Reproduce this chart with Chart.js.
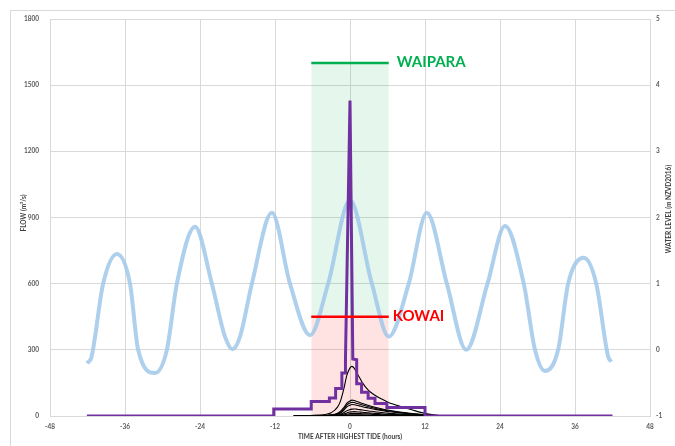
<!DOCTYPE html>
<html>
<head>
<meta charset="utf-8">
<script src="https://cdn.jsdelivr.net/npm/chart.js@4.4.1/dist/chart.umd.min.js"></script>
<style>
  html, body { margin: 0; padding: 0; background: #fff; }
  #wrap { width: 675px; height: 446px; position: relative; }
</style>
</head>
<body>
<div id="wrap"><canvas id="tideChart"></canvas></div>
<script>
"use strict";

// water level (right axis, m NZVD2016)
var TIDE_HOURS = [-42.1, -41.4, -39.5, -37.3, -35.2, -33.9, -31.2, -29.3, -27.7, -24.8, -22.1, -20.0, -18.8, -17.6, -15.7, -12.5, -9.6, -6.4, -3.5, 0, 3.5, 6.2, 9.4, 12.3, 15.5, 18.6, 22.0, 24.8, 27.8, 29.6, 31.2, 33.3, 34.9, 37.4, 39.4, 41.3, 41.8];
var TIDE_LEVEL = [-0.2, -0.12, 1.0, 1.45, 1.0, 0.0, -0.35, 0.0, 1.0, 1.86, 1.0, 0.2, 0.01, 0.2, 1.0, 2.07, 1.0, 0.22, 1.0, 2.26, 1.0, 0.2, 1.0, 2.07, 1.0, 0.0, 1.0, 1.87, 1.0, 0.0, -0.32, 0.0, 1.0, 1.39, 1.0, -0.1, -0.18];

// stepped design flow (purple)
var FLOW_HOURS = [-42.1, -12.2, -12.2, -6.2, -6.2, -3.3, -3.3, -2.3, -2.3, -1.3, -1.3, -0.8, -0.8, -0.65, 0, 0.45, 1.07, 1.07, 1.85, 1.85, 2.9, 2.9, 4.0, 4.0, 5.9, 5.9, 12.0, 12.0, 42.0];
var FLOW_VALUES = [0, 0, 32, 32, 66, 66, 82, 82, 125, 125, 195, 195, 258, 258, 1430, 258, 255, 146, 146, 108, 108, 80, 80, 57, 57, 38, 38, 0, 0];

// black hydrographs, all on the same hours
var HYDRO_HOURS = [-9, -7, -5, -4, -3, -2, -1.5, -1, -0.5, 0, 0.3, 0.7, 1, 1.5, 2, 3, 4, 5, 6, 7, 8, 10, 12, 14, 15];
var HYDRO_A = [0, 1, 4, 7, 15, 40, 70, 122, 185, 218, 225, 216, 200, 176, 150, 115, 94, 78, 64, 53, 44, 27, 12, 3, 0];
var HYDRO_B = [0, 0, 1, 2, 5, 13, 22, 38, 58, 68, 72, 70, 67, 62, 57, 48, 40, 33, 27, 22, 18, 11, 5, 1, 0];
var HYDRO_C = [0, 0, 1, 2, 4, 10, 18, 32, 50, 59, 62, 61, 58, 54, 50, 42, 35, 29, 24, 20, 16, 10, 5, 1, 0];
var HYDRO_D = [0, 0, 1, 1, 3, 8, 14, 26, 42, 49, 52, 51, 49, 46, 42, 36, 30, 25, 21, 17, 14, 9, 4, 1, 0];
var HYDRO_E = [0, 0, 0, 1, 2, 5, 9, 15, 24, 29, 31, 32, 31, 29, 27, 23, 19, 16, 13, 11, 9, 6, 3, 1, 0];
var HYDRO_F = [0, 0, 0, 0, 1, 3, 5, 9, 14, 18, 19, 20, 19, 18, 17, 14, 12, 10, 8, 7, 6, 4, 2, 1, 0];
var HYDRO_G = [0, 0, 0, 0, 1, 2, 3, 5, 8, 11, 12, 12, 12, 11, 10, 9, 7, 6, 5, 4, 4, 2, 1, 0, 0];
var HYDRO_H = [0, 0, 0, 0, 0, 1, 1, 3, 4, 5, 6, 6, 6, 5, 5, 4, 4, 3, 3, 2, 2, 1, 1, 0, 0];
var HYDRO_I = [0, 0, 0, 0, 0, 0, 1, 1, 2, 3, 3, 3, 3, 3, 2, 2, 2, 2, 1, 1, 1, 1, 0, 0, 0];

// flood thresholds and the window they apply to
var THRESHOLD_NAMES = ['WAIPARA', 'KOWAI'];
var THRESHOLD_FLOWS = [1600, 450];
var WINDOW_HOURS = [-6.2, 6.2];

var X_TICKS = [-48, 48, 12];
var FLOW_TICKS = [0, 1800, 300];
var LEVEL_TICKS = [-1, 5, 1];

var COLORS = {
  'tide': 'rgba(160, 200, 233, 0.85)',
  'flow': '#7030a0',
  'hydro': '#000000',
  'waipara': '#00b050',
  'waiparaFill': 'rgba(0, 176, 80, 0.1)',
  'kowai': '#ff0000',
  'kowaiFill': 'rgba(255, 0, 0, 0.11)',
  'grid': '#d9d9d9',
  'tick': '#595959',
  'title': '#404040'
};
var FONT = 'Lato, "Open Sans", sans-serif';

var toPoints = function (xs, ys) {
  var pts = [];
  for (let i = 0; i < xs.length; i++) {
    pts.push({ x: xs[i], y: ys[i] });
  }
  return pts;
};

var plainTick = function (value) {
  return String(value);
};

var hydroSet = function (values) {
  return {
    data: toPoints(HYDRO_HOURS, values),
    borderColor: COLORS.hydro,
    borderWidth: 1.1,
    pointRadius: 0,
    cubicInterpolationMode: 'monotone',
    yAxisID: 'y',
    order: 4
  };
};

var decorPlugin = {
  id: 'decor',
  beforeDraw: function (chart) {
    var ctx = chart.ctx;
    ctx.save();
    ctx.strokeStyle = COLORS.grid;
    ctx.lineWidth = 1;
    ctx.strokeRect(10.5, 10.5, 720, 500);
    ctx.restore();
  },
  afterDatasetsDraw: function (chart) {
    var ctx = chart.ctx;
    var xs = chart.scales.x, ys = chart.scales.y;
    var labelColors = [COLORS.waipara, COLORS.kowai];
    var labelGap = [8, 4];
    ctx.save();
    ctx.font = 'bold 15px ' + FONT;
    ctx.textBaseline = 'middle';
    ctx.textAlign = 'left';
    for (let i = 0; i < THRESHOLD_NAMES.length; i++) {
      ctx.fillStyle = labelColors[i];
      ctx.fillText(THRESHOLD_NAMES[i], xs.getPixelForValue(WINDOW_HOURS[1]) + labelGap[i], ys.getPixelForValue(THRESHOLD_FLOWS[i]) - 1);
    }

    // axis titles
    ctx.fillStyle = COLORS.title;
    ctx.font = 'bold 6.5px ' + FONT;
    ctx.textAlign = 'center';
    ctx.fillText('TIME AFTER HIGHEST TIDE (hours)', (chart.chartArea.left + chart.chartArea.right) / 2, 437);
    ctx.translate(24, 213);
    ctx.rotate(-Math.PI / 2);
    ctx.fillText('FLOW (m\u00b3/s)', 0, 0);
    ctx.restore();

    ctx.save();
    ctx.fillStyle = COLORS.title;
    ctx.font = 'bold 6.5px ' + FONT;
    ctx.textAlign = 'center';
    ctx.textBaseline = 'middle';
    ctx.translate(669, 209);
    ctx.rotate(-Math.PI / 2);
    ctx.fillText('WATER LEVEL (m NZVD2016)', 0, 0);
    ctx.restore();
  }
};

var load_tide_chart = function () {
  var el = document.getElementById('tideChart').getContext('2d');
  var tickFont = { family: FONT, size: 6.5, weight: 'bold' };

  var datasets = [
    {
      label: THRESHOLD_NAMES[0],
      data: toPoints(WINDOW_HOURS, [THRESHOLD_FLOWS[0], THRESHOLD_FLOWS[0]]),
      borderColor: COLORS.waipara,
      backgroundColor: COLORS.waiparaFill,
      borderWidth: 2.5,
      pointRadius: 0,
      fill: 1,
      yAxisID: 'y',
      order: 0
    },
    {
      label: THRESHOLD_NAMES[1],
      data: toPoints(WINDOW_HOURS, [THRESHOLD_FLOWS[1], THRESHOLD_FLOWS[1]]),
      borderColor: COLORS.kowai,
      backgroundColor: COLORS.kowaiFill,
      borderWidth: 2.5,
      pointRadius: 0,
      fill: 'origin',
      yAxisID: 'y',
      order: 0
    },
    {
      label: 'Flow',
      data: toPoints(FLOW_HOURS, FLOW_VALUES),
      borderColor: COLORS.flow,
      borderWidth: 3,
      pointRadius: 0,
      tension: 0,
      yAxisID: 'y',
      order: 1
    },
    {
      label: 'Water level',
      data: toPoints(TIDE_HOURS, TIDE_LEVEL),
      borderColor: COLORS.tide,
      borderWidth: 4,
      pointRadius: 0,
      cubicInterpolationMode: 'monotone',
      yAxisID: 'y2',
      order: 2
    }
  ];
  [HYDRO_A, HYDRO_B, HYDRO_C, HYDRO_D, HYDRO_E, HYDRO_F, HYDRO_G, HYDRO_H, HYDRO_I].forEach(function (v) {
    datasets.push(hydroSet(v));
  });

  return new Chart(el, {
    type: 'line',
    data: { datasets: datasets },
    plugins: [decorPlugin],
    options: {
      responsive: true,
      maintainAspectRatio: false,
      animation: false,
      layout: { padding: { top: 19, left: 0, right: 0, bottom: 0 } },
      plugins: {
        legend: { display: false },
        tooltip: { enabled: false },
        filler: { drawTime: 'beforeDatasetsDraw' }
      },
      scales: {
        x: {
          type: 'linear',
          min: X_TICKS[0],
          max: X_TICKS[1],
          afterFit: function (s) { s.height = 30; },
          grid: { color: COLORS.grid, drawTicks: false },
          border: { color: COLORS.grid },
          ticks: { stepSize: X_TICKS[2], color: COLORS.tick, font: tickFont, padding: 7, maxRotation: 0, callback: plainTick }
        },
        y: {
          position: 'left',
          min: FLOW_TICKS[0],
          max: FLOW_TICKS[1],
          afterFit: function (s) { s.width = 50; },
          grid: { color: COLORS.grid, drawTicks: false },
          border: { color: COLORS.grid },
          ticks: { stepSize: FLOW_TICKS[2], color: COLORS.tick, font: tickFont, padding: 11, callback: plainTick }
        },
        y2: {
          position: 'right',
          min: LEVEL_TICKS[0],
          max: LEVEL_TICKS[1],
          afterFit: function (s) { s.width = 25; },
          grid: { drawOnChartArea: false, drawTicks: false },
          border: { color: COLORS.grid },
          ticks: { stepSize: LEVEL_TICKS[2], color: COLORS.tick, font: tickFont, padding: 6, callback: plainTick }
        }
      }
    }
  });
};

load_tide_chart();
</script>
</body>
</html>
